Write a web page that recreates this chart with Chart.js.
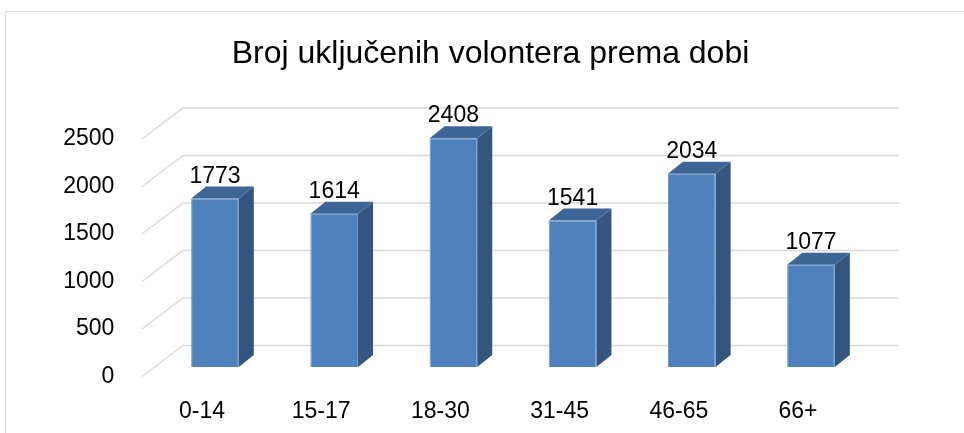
<!DOCTYPE html>
<html><head><meta charset="utf-8">
<script src="https://cdn.jsdelivr.net/npm/chart.js@4/dist/chart.umd.min.js"></script>
<style>
html,body{margin:0;padding:0;background:#fff;overflow:hidden}
#frame{position:absolute;left:5px;top:11px;width:1200px;height:1200px;border:1px solid #d9d9d9;box-sizing:border-box}
#wrap{position:absolute;left:0;top:0;width:964px;height:433px}
</style></head><body>
<div id="frame"></div>
<div id="wrap"><canvas id="c"></canvas></div>
<script>
const categories = ['0-14', '15-17', '18-30', '31-45', '46-65', '66+'];
const volunteers = [1773, 1614, 2408, 1541, 2034, 1077];
const yTickValues = [0, 500, 1000, 1500, 2000, 2500];
const chartTitle = 'Broj uključenih volontera prema dobi';

const FONT = '"Liberation Sans", Arial, sans-serif';
const DX = 15, DY = 12;

const bar3d = {
  id: 'bar3d',
  beforeDatasetsDraw(chart) {
    const { ctx, chartArea, scales: { y } } = chart;
    ctx.save();
    ctx.strokeStyle = '#d9d9d9';
    ctx.lineWidth = 1.5;
    y.ticks.forEach(t => {
      const py = y.getPixelForValue(t.value);
      ctx.beginPath();
      ctx.moveTo(chartArea.left - 13.4, py + 9.5);
      ctx.lineTo(chartArea.left + 27.6, py - 21.5);
      ctx.lineTo(chartArea.right + 28.4, py - 21.5);
      ctx.stroke();
    });
    ctx.restore();
  },
  afterDatasetsDraw(chart) {
    const { ctx } = chart;
    const meta = chart.getDatasetMeta(0);
    ctx.save();
    meta.data.forEach((bar, i) => {
      const l = bar.x - bar.width / 2, r = bar.x + bar.width / 2, t = bar.y, b = bar.base;
      ctx.fillStyle = '#34557f';
      ctx.beginPath();
      ctx.moveTo(r, t); ctx.lineTo(r + DX, t - DY); ctx.lineTo(r + DX, b - DY); ctx.lineTo(r, b);
      ctx.closePath(); ctx.fill();
      ctx.fillStyle = '#3d6596';
      ctx.beginPath();
      ctx.moveTo(l, t); ctx.lineTo(l + DX, t - DY); ctx.lineTo(r + DX, t - DY); ctx.lineTo(r, t);
      ctx.closePath(); ctx.fill();
      ctx.fillStyle = '#000';
      ctx.font = '23px ' + FONT;
      ctx.textAlign = 'center';
      ctx.textBaseline = 'alphabetic';
      ctx.fillText(String(volunteers[i]), bar.x, t - 16);
    });
    ctx.restore();
  }
};

new Chart(document.getElementById('c'), {
  type: 'bar',
  data: {
    labels: categories,
    datasets: [{
      data: volunteers,
      backgroundColor: '#4f81bd',
      borderColor: '#6a96cc',
      borderWidth: 1,
      barPercentage: 0.40,
      categoryPercentage: 1.0
    }]
  },
  options: {
    responsive: true,
    maintainAspectRatio: false,
    animation: false,
    layout: { padding: { left: 17, right: 0, top: 0, bottom: 0 } },
    plugins: {
      legend: { display: false },
      tooltip: { enabled: false },
      title: {
        display: true,
        text: chartTitle,
        color: '#000',
        font: { family: FONT, size: 32, weight: 'normal', lineHeight: 1.2 },
        padding: { top: 34.8, bottom: 56.3 }
      }
    },
    scales: {
      x: {
        grid: { display: false },
        border: { display: false },
        ticks: { color: '#000', font: { family: FONT, size: 23 }, padding: 23.2, labelOffset: -13, maxRotation: 0 },
        afterFit(s) { s.height = 66; }
      },
      y: {
        min: 0, max: 2500,
        afterBuildTicks(s) { s.ticks = yTickValues.map(v => ({ value: v })); },
        grid: { display: false },
        border: { display: false },
        ticks: { color: '#000', font: { family: FONT, size: 23 }, padding: 33, labelOffset: 9.5, callback: v => String(v) },
        afterFit(s) { s.width = 138.4; }
      },
      yRight: {
        position: 'right',
        display: true,
        grid: { display: false },
        border: { display: false },
        ticks: { display: false },
        afterFit(s) { s.width = 93.4; }
      }
    }
  },
  plugins: [bar3d]
});
</script>
</body></html>
